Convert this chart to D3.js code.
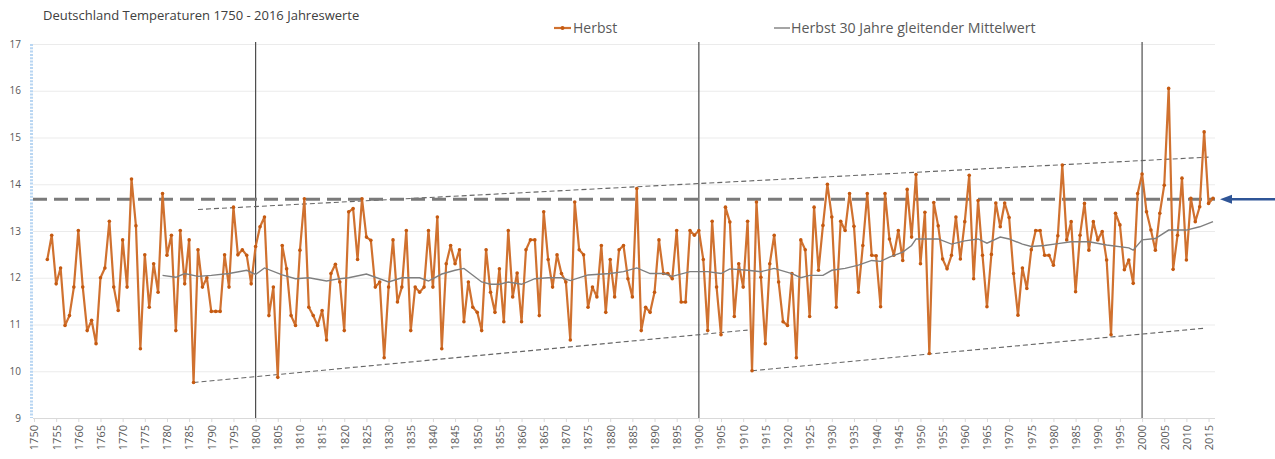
<!DOCTYPE html>
<html>
<head>
<meta charset="utf-8">
<script src="https://cdn.jsdelivr.net/npm/d3@7"></script>
<style>
body{margin:0;background:#fff;}
svg{display:block;font-family:"Open Sans",sans-serif;}
</style>
</head>
<body>
<svg id="chart" width="1275" height="459"></svg>
<script>
// Herbstwerte ab 1753
var startJahr=1753
var herbst=[
 12.39,12.91,11.87,12.21,10.98,11.19,11.8,
 13.01,11.8,10.87,11.09,10.59,12.0,12.21,13.21,11.8,11.3,
 12.81,11.8,14.11,13.11,10.48,12.49,11.37,12.3,11.69,13.8,
 12.48,12.91,10.87,13.01,11.87,12.81,9.76,12.6,11.8,12.0,
 11.28,11.28,11.28,12.49,11.8,13.51,12.49,12.6,12.48,11.87,
 12.67,13.09,13.3,11.19,11.8,9.87,12.69,12.19,11.19,10.98,
 12.59,13.69,11.37,11.19,10.98,11.3,10.67,12.09,12.29,11.91,
 10.87,13.41,13.48,12.39,13.69,12.87,12.8,11.8,11.91,10.29,
 11.8,12.81,11.48,11.8,13.01,10.87,11.8,11.69,11.8,13.01,
 11.8,13.3,10.48,12.3,12.69,12.3,12.6,11.06,11.91,11.37,
 11.26,10.87,12.6,11.69,11.26,12.19,11.06,13.01,11.59,12.1,
 11.06,12.6,12.81,12.81,11.19,13.41,12.39,11.8,12.49,12.09,
 11.91,10.67,13.62,12.6,12.49,11.37,11.8,11.59,12.69,11.26,
 12.39,11.59,12.6,12.69,11.98,11.59,13.91,10.87,11.37,11.26,
 11.69,12.81,12.09,12.09,11.98,13.01,11.48,11.48,13.01,12.91,
 13.01,12.39,10.87,13.21,11.8,10.78,13.51,13.19,11.17,12.3,
 11.8,13.21,10.01,13.62,12.01,10.59,12.3,12.91,11.91,11.06,
 10.98,12.09,10.29,12.81,12.6,11.17,13.51,12.16,13.12,14.0,
 13.3,11.37,13.21,13.01,13.8,13.1,11.69,12.69,13.8,12.48,
 12.47,11.38,13.8,12.83,12.48,13.01,12.37,13.89,12.87,14.21,
 12.3,13.4,10.38,13.61,13.11,12.4,12.19,12.48,13.3,12.4,
 13.2,14.19,11.98,13.65,12.48,11.38,12.5,13.6,13.09,13.6,
 13.29,12.09,11.2,12.21,11.77,12.6,13.01,13.01,12.48,12.48,
 12.27,12.9,14.41,12.81,13.2,11.7,12.91,13.59,12.59,13.2,
 12.81,12.99,12.38,10.78,13.38,13.13,12.17,12.38,11.88,13.8,
 14.22,13.41,13.02,12.59,13.38,13.98,16.05,12.18,12.91,14.13,
 12.38,13.7,13.2,13.52,15.12,13.59,13.7
]

// 30 Jahre gleitender Mittelwert (Stuetzstellen)
var mittelJahre=[1779,1782,1784,1787,1790,1794,1798,1800,1802,1806,1809,1812,1816,1819,1821,1825,1830,1833,1837,1839,1842,1845,1847,1851,1853,1855,1857,1860,1863,1866,1869,1871,1875,1880,1883,1886,1889,1892,1894,1898,1902,1905,1907,1911,1914,1917,1921,1923,1925,1928,1930,1933,1936,1939,1941,1943,1946,1948,1949,1951,1954,1957,1960,1963,1965,1968,1970,1973,1975,1978,1981,1984,1988,1992,1997,1998,2000,2003,2006,2010,2013,2016]
var mittelWerte=[12.05,12.01,12.09,12.03,12.05,12.09,12.16,12.07,12.21,12.06,11.98,12.0,11.93,11.98,12.0,12.08,11.91,12.0,12.0,11.93,12.08,12.16,12.2,11.91,11.86,11.86,11.91,11.86,11.98,12.0,12.0,11.94,12.06,12.09,12.13,12.21,12.09,12.09,12.03,12.13,12.13,12.09,12.19,12.16,12.13,12.2,12.09,12.0,12.05,12.05,12.16,12.2,12.27,12.37,12.35,12.44,12.55,12.69,12.83,12.83,12.83,12.72,12.79,12.83,12.74,12.87,12.83,12.72,12.67,12.69,12.73,12.77,12.77,12.7,12.64,12.59,12.81,12.84,13.02,13.02,13.09,13.2]

var tickJahre=d3.range(1750,2016,5)
var yTicks=d3.range(9,18)
var markJahre=[1800,1900,2000]
var refWert=13.68
// Trendlinien [jahr, wert]
var trendOben=[[1787,13.46],[2015,14.58]]
var trendUnten1=[[1786,9.76],[1911,10.88]]
var trendUnten2=[[1912,10.01],[2014,10.92]]

var titel="Deutschland Temperaturen 1750 - 2016 Jahreswerte"
var legende=["Herbst","Herbst 30 Jahre gleitender Mittelwert"]

var svg=d3.select("#chart")
var x=d3.scaleLinear().domain([1750,2016]).range([34,1213])
var y=d3.scaleLinear().domain([9,17]).range([418,44])
var xEnde=1215

var daten=herbst.map(function(v,i){ return {jahr:startJahr+i, wert:v} })
var mittel=mittelJahre.map(function(j,i){ return {jahr:j, wert:mittelWerte[i]} })

//gitternetz
svg.append("g")
  .attr("transform","translate(33,0)")
  .call(d3.axisLeft(y).tickValues(yTicks).tickSize(-(xEnde-33)).tickFormat(""))
  .call(function(g){ g.select(".domain").remove() })
  .selectAll("line").attr("stroke","#ebebeb")

//y labels
var yAxis=svg.append("g")
  .attr("transform","translate(33,0)")
  .call(d3.axisLeft(y).tickValues(yTicks).tickSize(0).tickPadding(12).tickFormat(d3.format("d")))
yAxis.select(".domain").remove()
yAxis.selectAll("text").attr("fill","#595959").style("font-size","10px").style("font-family","Open Sans")

//blaue y achse (markiert)
svg.append("line")
  .attr("x1",31.5).attr("x2",31.5).attr("y1",y(17)).attr("y2",y(9))
  .attr("stroke","#b9d6f2").attr("stroke-width",3).attr("stroke-dasharray","2,1.3")

//x achse
var xAxis=svg.append("g")
  .attr("transform","translate(0,"+y(9)+")")
  .call(d3.axisBottom(x).tickValues(tickJahre).tickSize(4).tickFormat(d3.format("d")))
xAxis.select(".domain").attr("d","M33,0.5H"+xEnde).attr("stroke","#d9d9d9")
xAxis.selectAll(".tick line").attr("stroke","#d9d9d9")
xAxis.selectAll("text")
  .attr("transform","rotate(-90)")
  .attr("text-anchor","end")
  .attr("x",-7).attr("y",0).attr("dy",".35em")
  .attr("fill","#595959")
  .style("font-size","11px").style("font-family","Open Sans")

//senkrechte linien 1800/1900/2000
svg.selectAll("line.mark")
  .data(markJahre)
  .enter().append("line")
  .attr("class","mark")
  .attr("x1",function(d){return x(d)}).attr("x2",function(d){return x(d)})
  .attr("y1",y(17)-2).attr("y2",y(9))
  .attr("stroke","#4d4d4d").attr("stroke-width",1.2)

var linie=d3.line().x(function(d){return x(d.jahr)}).y(function(d){return y(d.wert)})
var paar=d3.line().x(function(d){return x(d[0])}).y(function(d){return y(d[1])})

//trendlinien duenn gestrichelt
svg.selectAll("path.trend")
  .data([trendOben,trendUnten1,trendUnten2])
  .enter().append("path")
  .attr("class","trend")
  .attr("d",paar)
  .attr("fill","none").attr("stroke","#666").attr("stroke-width",1.1).attr("stroke-dasharray","5,3")

//referenz 13.7 dick gestrichelt
svg.append("line")
  .attr("x1",33).attr("x2",xEnde).attr("y1",y(refWert)).attr("y2",y(refWert))
  .attr("stroke","#7a7a7a").attr("stroke-width",3).attr("stroke-dasharray","14,7")

//herbst linie
svg.append("path")
  .datum(daten)
  .attr("d",linie)
  .attr("fill","none").attr("stroke","#d0712f").attr("stroke-width",2.2).attr("stroke-linejoin","round")

svg.selectAll("circle.pt")
  .data(daten)
  .enter().append("circle")
  .attr("class","pt")
  .attr("cx",function(d){return x(d.jahr)})
  .attr("cy",function(d){return y(d.wert)})
  .attr("r",1.8)
  .attr("fill","#c55a11")

//mittelwert
svg.append("path")
  .datum(mittel)
  .attr("d",linie)
  .attr("fill","none").attr("stroke","#7f7f7f").attr("stroke-width",1.4)

//pfeil rechts
var ay=y(refWert)
svg.append("line")
  .attr("x1",1275).attr("x2",1228).attr("y1",ay).attr("y2",ay)
  .attr("stroke","#2f5597").attr("stroke-width",2.5)
svg.append("path")
  .attr("d","M1220,"+ay+"L1232,"+(ay-4.5)+"L1232,"+(ay+4.5)+"Z")
  .attr("fill","#2f5597")

//titel
svg.append("text")
  .attr("x",43).attr("y",20)
  .attr("fill","#404040")
  .style("font-size","13px")
  .text(titel)

//legende
var leg=svg.append("g")
leg.append("line").attr("x1",554).attr("x2",571).attr("y1",28).attr("y2",28)
  .attr("stroke","#d0712f").attr("stroke-width",2.2)
leg.append("circle").attr("cx",562.5).attr("cy",28).attr("r",2).attr("fill","#c55a11")
leg.append("text").attr("x",573).attr("y",33).attr("fill","#595959").style("font-size","14px").text(legende[0])
leg.append("line").attr("x1",774).attr("x2",790).attr("y1",28).attr("y2",28)
  .attr("stroke","#7f7f7f").attr("stroke-width",1.4)
leg.append("text").attr("x",791).attr("y",33).attr("fill","#595959").style("font-size","14.2px").text(legende[1])
</script>
</body>
</html>
